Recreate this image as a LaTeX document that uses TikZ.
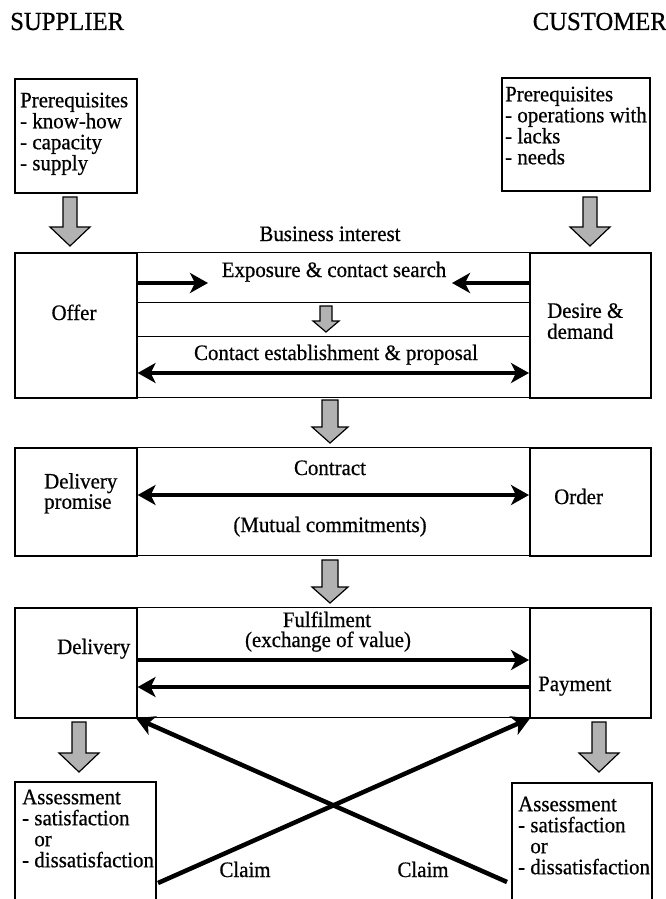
\documentclass[tikz,border=0pt]{standalone}
\usepackage{fontspec}
\setmainfont{Liberation Serif}[FakeStretch=0.95, FakeBold=0.6]
\usetikzlibrary{arrows.meta}
\newcommand{\blockdown}[6]{% cx, ytop, ytip, half shaft, half head, head length
  \filldraw[blk] (#1-#4,#2) -- (#1+#4,#2) -- (#1+#4,#3-#6) -- (#1+#5,#3-#6) -- (#1,#3) -- (#1-#5,#3-#6) -- (#1-#4,#3-#6) -- cycle;}
\tikzset{
  box/.style={draw, line width=1.6pt, inner sep=0pt, anchor=north west},
  midbox/.style={draw, line width=1.2pt, inner sep=0pt, anchor=north west},
  sep/.style={line width=1.2pt},
  txt/.style={inner sep=0pt, font=\fontsize{22}{21}\selectfont, align=left},
  ctxt/.style={inner sep=0pt, font=\fontsize{22}{21}\selectfont, anchor=base},
  ttl/.style={inner sep=0pt, font=\fontsize{26}{26}\selectfont},
  tip/.tip={Stealth[length=18pt,width=20pt,inset=5pt]},
  flow/.style={line width=4.5pt, -tip},
  flowboth/.style={line width=4.5pt, tip-tip},
  blk/.style={draw, line width=1.2pt, fill=black!30},
}
\begin{document}
\begin{tikzpicture}[x=1pt,y=-1pt]
\useasboundingbox (0,0) rectangle (666,899);

% titles
\node[ttl, anchor=base west] (sup) at (10,30) {SUPPLIER};
\node[ttl, anchor=base east] (cus) at (667,30) {CUSTOMER};

% prerequisites
\node[box, minimum width=122pt, minimum height=114pt] (preS) at (14,78) {};
\node[txt, anchor=north west] (preSt) at (20,92.5) {Prerequisites\\- know-how\\- capacity\\- supply};
\node[box, minimum width=148pt, minimum height=113pt] (preC) at (501,77) {};
\node[txt, anchor=north west] (preCt) at (505,86.5) {Prerequisites\\- operations with\\- lacks\\- needs};

\blockdown{70}{197}{246}{7}{20}{19}
\blockdown{590}{197}{246}{7}{20}{19}

\node[ctxt] (busi) at (330,241) {Business interest};

% row 1
\node[box, minimum width=122pt, minimum height=145pt] (offer) at (14,252) {};
\node[midbox, minimum width=393pt, minimum height=145pt] (expo) at (136,252) {};
\node[box, minimum width=121pt, minimum height=145pt] (desire) at (529,252) {};
\draw[sep] (136,302.7) -- (529,302.7);
\draw[sep] (136,336.7) -- (529,336.7);
\node[ctxt] (offert) at (74,320) {Offer};
\node[txt, anchor=north west] (desiret) at (547,303) {Desire \&\\demand};
\node[ctxt] (expot) at (334,277) {Exposure \& contact search};
\coordinate (e1) at (208,283);
\coordinate (e2) at (452,283);
\draw[flow] (offer.east |- e1) -- (e1);
\draw[flow] (desire.west |- e2) -- (e2);
\blockdown{326}{306}{332}{6}{13}{11}
\node[ctxt] (propt) at (336,360) {Contact establishment \& proposal};
\coordinate (y1) at (330,373);
\draw[flowboth] (offer.east |- y1) -- (desire.west |- y1);

\blockdown{330}{400}{443}{8}{18}{16}

% row 2
\node[box, minimum width=122pt, minimum height=108pt] (promise) at (14,447) {};
\node[midbox, minimum width=393pt, minimum height=108pt] (contract) at (136,447) {};
\node[box, minimum width=121pt, minimum height=108pt] (order) at (529,447) {};
\node[txt, anchor=north west, font=\fontsize{22}{17.5}\selectfont] (promiset) at (44,473) {Delivery\\promise};
\node[ctxt] (contractt) at (330,475) {Contract};
\node[ctxt] (mutual) at (330,532) {(Mutual commitments)};
\node[ctxt, anchor=base west] (ordert) at (554,504) {Order};
\coordinate (y2) at (330,495);
\draw[flowboth] (promise.east |- y2) -- (order.west |- y2);

\blockdown{330}{560}{603}{8}{18}{16}

% row 3
\node[box, minimum width=122pt, minimum height=110pt] (deliv) at (14,607) {};
\node[midbox, minimum width=393pt, minimum height=110pt] (fulf) at (136,607) {};
\node[box, minimum width=121pt, minimum height=110pt] (pay) at (529,607) {};
\node[ctxt] (fulft) at (327,627) {Fulfilment};
\node[ctxt] (exch) at (328,647) {(exchange of value)};
\node[ctxt, anchor=base west] (delivt) at (57,654) {Delivery};
\node[ctxt, anchor=base west] (payt) at (538,691) {Payment};
\coordinate (y3) at (330,660);
\coordinate (y4) at (330,687);
\draw[flow] (deliv.east |- y3) -- (pay.west |- y3);
\draw[flow] (pay.west |- y4) -- (deliv.east |- y4);

\blockdown{79}{722}{772}{7}{20}{19}
\blockdown{599}{722}{772}{7}{20}{19}

% assessment
\node[box, minimum width=141pt, minimum height=140pt] (assS) at (14,781) {};
\node[txt, anchor=north west] (assSt) at (22,789.5) {Assessment\\- satisfaction\\\phantom{- }or\\- dissatisfaction};
\node[box, minimum width=140pt, minimum height=140pt] (assC) at (511,782) {};
\node[txt, anchor=north west] (assCt) at (518,796.5) {Assessment\\- satisfaction\\\phantom{- }or\\- dissatisfaction};

% claims
\coordinate (c1) at (158,883);
\coordinate (c2) at (507,882);
\draw[flow] (c1) -- (fulf.south east);
\draw[flow] (c2) -- (fulf.south west);
\node[ctxt] (claim1) at (245,877) {Claim};
\node[ctxt] (claim2) at (423,877) {Claim};
\end{tikzpicture}
\end{document}
